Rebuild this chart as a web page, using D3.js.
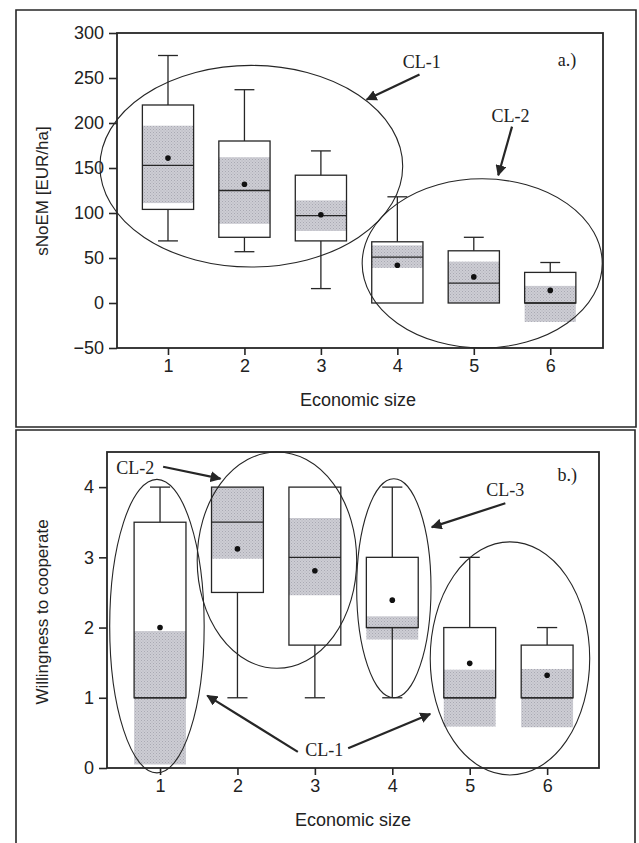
<!DOCTYPE html>
<html lang="en">
<head>
<meta charset="UTF-8">
<title>Economic size box plots</title>
<script src="https://cdn.jsdelivr.net/npm/d3@7"></script>
<style>
    body { margin: 0; background: #fff; }
    .tick text, .axis-title { font-family: "Liberation Sans", Arial, sans-serif; fill: #222; }
    .note { font-family: "Liberation Serif", "Times New Roman", serif; fill: #222; }
</style>
</head>
<body>
<div id="chart"></div>
<script>
    // categories
    var sizes = [1, 2, 3, 4, 5, 6];

    // a.) sNoEM [EUR/ha]
    var aTicks     = [-50, 0, 50, 100, 150, 200, 250, 300];
    var aWhiskerHi = [275, 237, 169, 118, 73, 45];
    var aQ3        = [220, 180, 142, 68, 58, 34];
    var aMedian    = [153, 125, 97, 51, 22, 0];
    var aQ1        = [104, 73, 69, 0, 0, 0];
    var aWhiskerLo = [69, 57, 16, 0, 0, 0];
    var aMean      = [161, 132, 98, 42, 29, 14];
    var aCiHi      = [197, 162, 114, 64, 46, 19];
    var aCiLo      = [111, 88, 80, 39, 0, -21];

    // b.) Willingness to cooperate
    var bTicks     = [0, 1, 2, 3, 4];
    var bWhiskerHi = [4, 4, 4, 4, 3, 2];
    var bQ3        = [3.5, 4, 4, 3, 2, 1.75];
    var bMedian    = [1, 3.5, 3, 2, 1, 1];
    var bQ1        = [1, 2.5, 1.75, 2, 1, 1];
    var bWhiskerLo = [1, 1, 1, 1, 1, 1];
    var bMean      = [2.0, 3.12, 2.81, 2.39, 1.49, 1.32];
    var bCiHi      = [1.95, 4, 3.56, 2.16, 1.4, 1.41];
    var bCiLo      = [0.05, 2.98, 2.46, 1.83, 0.59, 0.58];

    // cluster ellipses and labels, in data units
    var aEllipses = [[2.09, 152, 1.98, 112], [5.11, 44, 1.57, 94]];
    var aNotes = [["CL-1", 4.32, 268], ["CL-2", 5.48, 208]];
    var aArrows = [[4.29, 254, 3.60, 226], [5.50, 196, 5.32, 142]];

    var bEllipses = [[0.96, 2.02, 0.61, 2.09], [2.51, 2.96, 1.03, 1.54], [4.02, 2.56, 0.48, 1.56], [5.52, 1.56, 1.03, 1.66]];
    var bNotes = [["CL-2", 0.68, 4.27], ["CL-3", 5.46, 3.96], ["CL-1", 3.12, 0.26]];
    var bArrows = [[1.04, 4.29, 1.78, 4.12], [5.46, 3.77, 4.51, 3.43], [2.78, 0.23, 1.61, 1.03], [3.43, 0.28, 4.49, 0.77]];

    var width = 639, height = 843;
    var ink = "#262626";

    var svg = d3.select("#chart").append("svg")
        .attr("width", width)
        .attr("height", height);

    var defs = svg.append("defs");
    defs.append("marker")
        .attr("id", "head")
        .attr("viewBox", "0 0 10 10")
        .attr("refX", 9).attr("refY", 5)
        .attr("markerWidth", 5).attr("markerHeight", 5)
        .attr("orient", "auto")
        .append("path")
        .attr("d", "M0,0 L10,5 L0,10 z")
        .attr("fill", ink);

    // stippled grey like the print
    var pat = defs.append("pattern")
        .attr("id", "stipple")
        .attr("width", 3).attr("height", 3)
        .attr("patternUnits", "userSpaceOnUse");
    pat.append("rect").attr("width", 3).attr("height", 3).attr("fill", "#cdcdd4");
    pat.append("rect").attr("x", 0).attr("y", 0).attr("width", 1).attr("height", 1).attr("fill", "#a9a9b2");
    pat.append("rect").attr("x", 1.5).attr("y", 1.5).attr("width", 1).attr("height", 1).attr("fill", "#b2b2ba");

    function drawPanel(p) {
        // outer frame
        svg.append("path")
            .attr("d", p.framePath)
            .attr("fill", "none")
            .attr("stroke", ink)
            .attr("stroke-width", 1.6);

        var x = d3.scaleLinear().domain(p.xDomain).range([p.left, p.right]);
        var y = d3.scaleLinear().domain(p.yDomain).range([p.bottom, p.top]);
        var g = svg.append("g");
        var half = 0.335, cap = 0.13;

        var rows = sizes.map(function (s, i) {
            return { s: s, hi: p.whiskerHi[i], q3: p.q3[i], med: p.median[i], q1: p.q1[i],
                     lo: p.whiskerLo[i], mean: p.mean[i], ciHi: p.ciHi[i], ciLo: p.ciLo[i] };
        });

        // mean confidence band
        g.selectAll("rect.ci").data(rows).enter().append("rect")
            .attr("class", "ci")
            .attr("x", function (d) { return x(d.s - half); })
            .attr("width", function (d) { return x(d.s + half) - x(d.s - half); })
            .attr("y", function (d) { return y(d.ciHi); })
            .attr("height", function (d) { return y(d.ciLo) - y(d.ciHi); })
            .attr("fill", "url(#stipple)");

        // whiskers
        rows.forEach(function (d) {
            if (d.hi > d.q3) {
                g.append("line").attr("x1", x(d.s)).attr("x2", x(d.s))
                    .attr("y1", y(d.q3)).attr("y2", y(d.hi));
                g.append("line").attr("x1", x(d.s - cap)).attr("x2", x(d.s + cap))
                    .attr("y1", y(d.hi)).attr("y2", y(d.hi));
            }
            if (d.lo < d.q1) {
                g.append("line").attr("x1", x(d.s)).attr("x2", x(d.s))
                    .attr("y1", y(d.q1)).attr("y2", y(d.lo));
                g.append("line").attr("x1", x(d.s - cap)).attr("x2", x(d.s + cap))
                    .attr("y1", y(d.lo)).attr("y2", y(d.lo));
            }
        });

        // boxes
        g.selectAll("rect.box").data(rows).enter().append("rect")
            .attr("class", "box")
            .attr("x", function (d) { return x(d.s - half); })
            .attr("width", function (d) { return x(d.s + half) - x(d.s - half); })
            .attr("y", function (d) { return y(d.q3); })
            .attr("height", function (d) { return y(d.q1) - y(d.q3); })
            .attr("fill", "none");

        g.selectAll("line.med").data(rows).enter().append("line")
            .attr("class", "med")
            .attr("x1", function (d) { return x(d.s - half); })
            .attr("x2", function (d) { return x(d.s + half); })
            .attr("y1", function (d) { return y(d.med); })
            .attr("y2", function (d) { return y(d.med); });

        g.selectAll("line, rect.box").attr("stroke", ink).attr("stroke-width", 1.3);

        g.selectAll("circle").data(rows).enter().append("circle")
            .attr("cx", function (d) { return x(d.s); })
            .attr("cy", function (d) { return y(d.mean); })
            .attr("r", 2.8)
            .attr("fill", "#111");

        // plot frame
        svg.append("rect")
            .attr("x", p.left).attr("y", p.top)
            .attr("width", p.right - p.left).attr("height", p.bottom - p.top)
            .attr("fill", "none").attr("stroke", ink).attr("stroke-width", 1.8);

        // axes
        var ya = svg.append("g")
            .attr("transform", "translate(" + p.left + ",0)")
            .call(d3.axisLeft(y).tickValues(p.ticks).tickFormat(d3.format("d")).tickSize(8).tickPadding(5));
        var xa = svg.append("g")
            .attr("transform", "translate(0," + p.bottom + ")")
            .call(d3.axisBottom(x).tickValues(sizes).tickFormat(d3.format("d")).tickSize(7).tickPadding(4));
        [ya, xa].forEach(function (a) {
            a.select(".domain").remove();
            a.selectAll("line").attr("stroke", ink).attr("stroke-width", 1.6);
            a.selectAll("text").style("font-size", "18px");
        });

        svg.append("text").attr("class", "axis-title")
            .attr("transform", "translate(" + p.yTitleX + "," + p.yTitleY + ") rotate(-90)")
            .attr("text-anchor", "middle").attr("dy", "0.35em")
            .style("font-size", "17px")
            .text(p.yTitle);
        svg.append("text").attr("class", "axis-title")
            .attr("x", p.xTitleX).attr("y", p.xTitleY)
            .attr("text-anchor", "middle").attr("dy", "0.35em")
            .style("font-size", "18px")
            .text("Economic size");

        // cluster ellipses
        svg.append("g").selectAll("ellipse").data(p.ellipses).enter().append("ellipse")
            .attr("cx", function (e) { return x(e[0]); })
            .attr("cy", function (e) { return y(e[1]); })
            .attr("rx", function (e) { return x(e[0] + e[2]) - x(e[0]); })
            .attr("ry", function (e) { return y(e[1] - e[3]) - y(e[1]); })
            .attr("fill", "none").attr("stroke", ink).attr("stroke-width", 1.1);

        svg.append("g").selectAll("line").data(p.arrows).enter().append("line")
            .attr("x1", function (a) { return x(a[0]); })
            .attr("y1", function (a) { return y(a[1]); })
            .attr("x2", function (a) { return x(a[2]); })
            .attr("y2", function (a) { return y(a[3]); })
            .attr("stroke", ink).attr("stroke-width", 2.2)
            .attr("marker-end", "url(#head)");

        svg.append("g").selectAll("text").data(p.notes.concat([[p.tag, p.tagX, p.tagY]])).enter().append("text")
            .attr("class", "note")
            .attr("x", function (n) { return x(n[1]); })
            .attr("y", function (n) { return y(n[2]); })
            .attr("text-anchor", "middle").attr("dy", "0.35em")
            .style("font-size", "18px")
            .text(function (n) { return n[0]; });
    }

    drawPanel({
        framePath: "M16,427 L16,10 L636,10 L636,427 Z",
        left: 117, right: 603, top: 33, bottom: 348,
        xDomain: [0.333, 6.69], yDomain: [-50, 300], ticks: aTicks,
        whiskerHi: aWhiskerHi, q3: aQ3, median: aMedian, q1: aQ1, whiskerLo: aWhiskerLo,
        mean: aMean, ciHi: aCiHi, ciLo: aCiLo,
        yTitle: "sNoEM [EUR/ha]", yTitleX: 42, yTitleY: 191,
        xTitleX: 358, xTitleY: 400,
        ellipses: aEllipses, notes: aNotes, arrows: aArrows,
        tag: "a.)", tagX: 6.22, tagY: 270
    });

    drawPanel({
        framePath: "M16,843 L16,430 L635,430 L635,843",
        left: 107, right: 599, top: 452, bottom: 768,
        xDomain: [0.315, 6.67], yDomain: [0, 4.5], ticks: bTicks,
        whiskerHi: bWhiskerHi, q3: bQ3, median: bMedian, q1: bQ1, whiskerLo: bWhiskerLo,
        mean: bMean, ciHi: bCiHi, ciLo: bCiLo,
        yTitle: "Willingness to cooperate", yTitleX: 42, yTitleY: 612,
        xTitleX: 353, xTitleY: 820,
        ellipses: bEllipses, notes: bNotes, arrows: bArrows,
        tag: "b.)", tagX: 6.26, tagY: 4.17
    });
</script>
</body>
</html>
